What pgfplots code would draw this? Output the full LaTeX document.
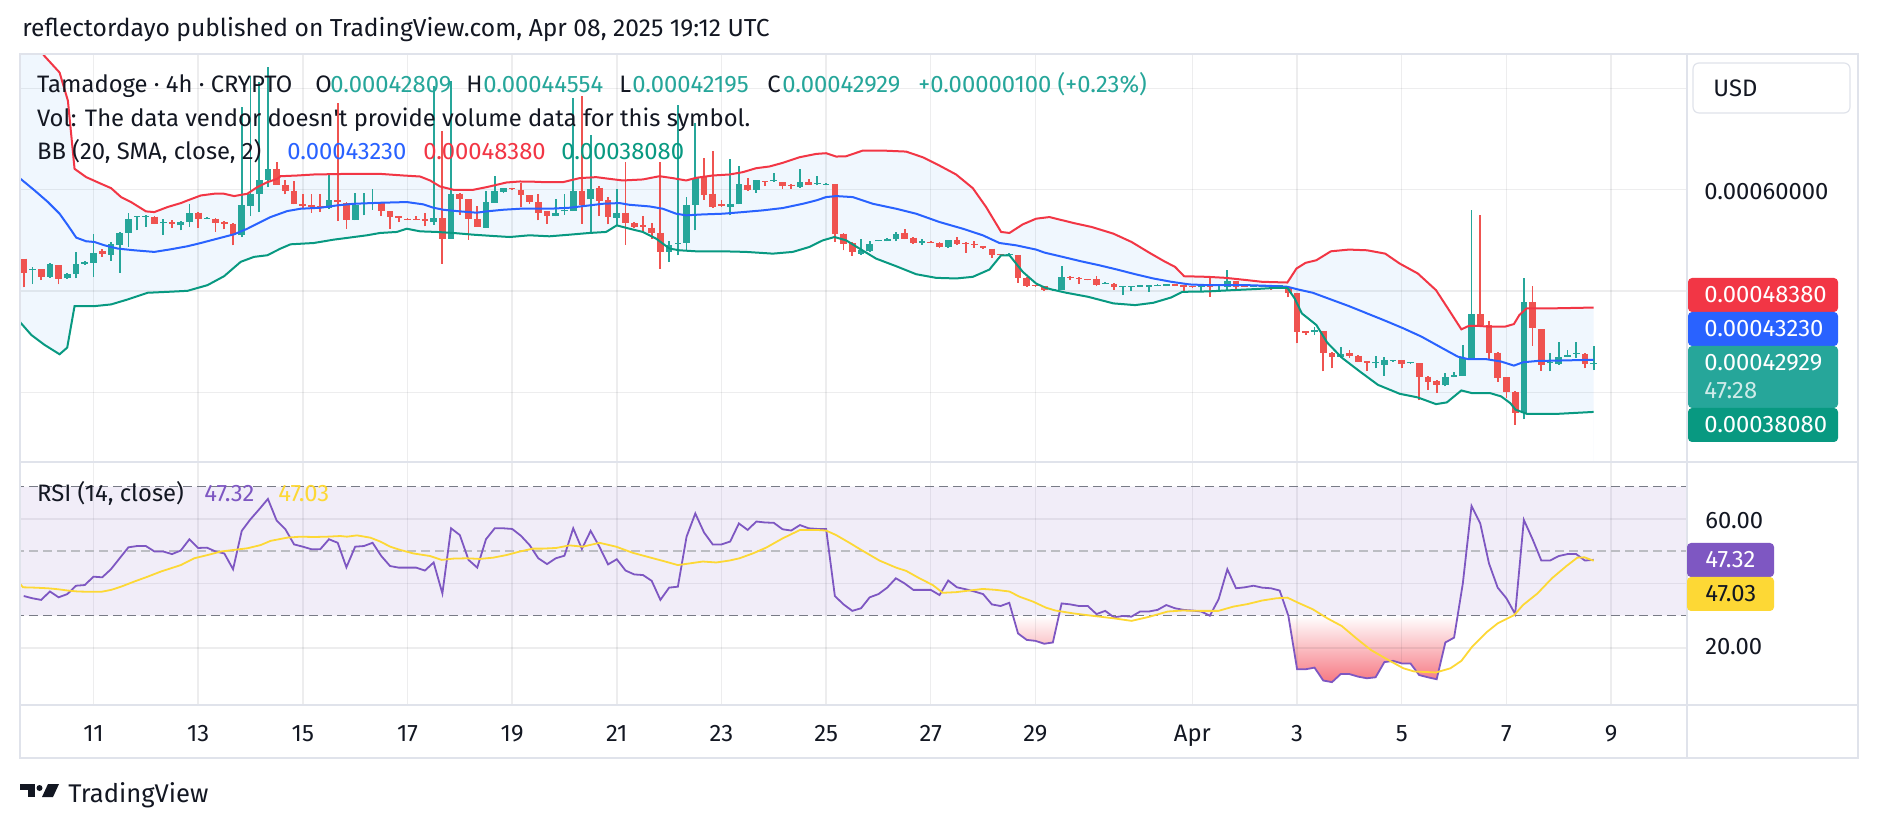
\documentclass[border=0pt]{standalone}
\usepackage{pgfplots}
\pgfplotsset{compat=1.18}
\usepackage{pgfplotstable}
\usepackage{fontspec}
\setmainfont{Fira Sans}
\newfontfamily\plainfs{Fira Sans}

\definecolor{tvgreen}{HTML}{26A69A}
\definecolor{tvred}{HTML}{EF5350}
\definecolor{bbup}{HTML}{F23645}
\definecolor{bbmid}{HTML}{2962FF}
\definecolor{bblow}{HTML}{089981}
\definecolor{bbfill}{RGB}{240,247,254}
\definecolor{rsiline}{HTML}{7E57C2}
\definecolor{rsima}{HTML}{FDD835}
\definecolor{dashc}{HTML}{787B86}
\definecolor{dashm}{RGB}{188,189,195}
\definecolor{framec}{HTML}{E0E3EB}
\definecolor{txt}{HTML}{131722}
\definecolor{osred}{HTML}{F23645}

\newcommand{\fs}{\fontsize{11.9pt}{14pt}\selectfont}

% ---------- candles (price in units of 1e-4 USD, t = day of March) ----------
\pgfplotstableread{
t o h l c
9.833 5.207 5.239 5.069 5.216
10.167 5.141 5.279 5.131 5.266
10.500 5.125 5.180 5.120 5.174
10.667 5.174 5.390 5.125 5.272
10.833 5.272 5.300 5.262 5.289
11.000 5.282 5.567 5.141 5.380
11.333 5.361 5.485 5.298 5.469
11.500 5.459 5.580 5.180 5.577
11.667 5.577 5.774 5.436 5.715
11.833 5.731 5.745 5.600 5.741
12.000 5.735 5.748 5.633 5.745
12.333 5.672 5.715 5.557 5.682
12.667 5.649 5.692 5.600 5.682
12.833 5.682 5.856 5.633 5.770
13.167 5.715 5.730 5.710 5.725
13.833 5.551 6.813 5.534 5.846
14.000 5.840 7.125 5.741 5.961
14.167 5.961 7.059 5.780 6.098
14.333 6.098 7.213 6.026 6.207
15.500 5.820 6.151 5.813 5.895
16.000 5.705 5.967 5.698 5.852
16.167 5.856 5.967 5.748 5.869
16.333 5.866 6.010 5.803 5.879
17.500 5.682 7.026 5.656 5.721
17.833 5.518 7.075 5.518 5.961
18.500 5.626 5.993 5.626 5.879
18.667 5.872 6.141 5.872 5.993
18.833 5.980 6.020 5.967 6.016
19.833 5.738 5.911 5.738 5.774
20.000 5.787 5.954 5.754 5.803
20.167 5.790 6.902 5.790 5.993
20.500 5.905 6.541 5.574 6.010
21.000 5.725 6.010 5.649 5.774
22.000 5.387 5.495 5.289 5.459
22.167 5.469 6.836 5.354 5.479
22.333 5.475 5.928 5.410 5.852
22.500 5.852 6.659 5.600 6.115
23.167 5.830 6.305 5.748 5.862
23.333 5.856 6.239 5.856 6.059
23.667 6.000 6.100 5.970 6.092
24.000 6.082 6.167 6.080 6.092
24.500 6.026 6.207 6.020 6.075
24.833 6.059 6.141 6.043 6.069
25.000 6.049 6.065 6.045 6.059
25.667 5.367 5.511 5.360 5.410
25.833 5.393 5.491 5.390 5.469
26.000 5.491 5.505 5.490 5.501
26.167 5.491 5.520 5.490 5.518
26.333 5.511 5.584 5.491 5.567
26.833 5.479 5.518 5.459 5.491
27.333 5.436 5.505 5.430 5.501
28.500 5.354 5.375 5.350 5.370
29.333 5.008 5.020 5.000 5.018
29.500 5.016 5.246 5.016 5.141
30.333 5.075 5.090 5.070 5.085
30.667 5.039 5.050 4.961 5.049
30.833 5.043 5.055 5.003 5.053
31.000 5.043 5.060 5.040 5.056
31.167 5.043 5.065 4.993 5.059
31.333 5.053 5.066 5.050 5.063
31.500 5.053 5.070 5.050 5.066
32.167 5.036 5.050 5.003 5.049
32.500 5.049 5.065 5.010 5.059
32.667 5.043 5.207 5.010 5.098
33.167 5.043 5.060 5.040 5.059
33.333 5.043 5.060 5.040 5.056
33.667 5.043 5.060 5.040 5.056
34.333 4.600 4.643 4.567 4.616
34.833 4.354 4.452 4.350 4.377
35.500 4.288 4.361 4.239 4.298
35.667 4.272 4.354 4.164 4.321
35.833 4.311 4.325 4.305 4.321
36.167 4.288 4.300 4.285 4.298
36.833 4.069 4.197 4.059 4.148
37.000 4.157 4.200 4.150 4.174
37.167 4.164 4.469 4.164 4.338
37.333 4.338 5.803 4.338 4.770
38.333 3.797 5.125 3.738 4.888
38.833 4.288 4.393 4.207 4.305
39.000 4.282 4.500 4.275 4.347
39.167 4.354 4.420 4.350 4.370
39.333 4.380 4.502 4.338 4.390
39.667 4.2809 4.4554 4.2195 4.2929
}\greenc

\pgfplotstableread{
t o h l c
9.667 5.321 5.321 5.036 5.180
10.000 5.216 5.223 5.108 5.141
10.333 5.256 5.260 5.066 5.115
11.167 5.393 5.420 5.338 5.370
12.167 5.734 5.740 5.660 5.666
12.500 5.682 5.705 5.623 5.659
13.000 5.774 5.780 5.623 5.715
13.333 5.715 5.720 5.584 5.672
13.500 5.682 5.690 5.610 5.666
13.667 5.666 5.670 5.452 5.557
14.500 6.207 6.279 6.049 6.049
14.667 6.049 6.092 5.954 5.993
14.833 5.993 6.082 5.856 5.856
15.000 5.856 5.961 5.813 5.836
15.167 5.846 5.961 5.774 5.830
15.333 5.839 5.954 5.780 5.829
15.667 5.895 6.852 5.692 5.879
15.833 5.872 5.880 5.616 5.698
16.500 5.879 5.880 5.741 5.787
16.667 5.787 5.790 5.616 5.731
16.833 5.738 5.740 5.682 5.725
17.000 5.715 5.718 5.700 5.705
17.167 5.712 5.738 5.700 5.702
17.333 5.708 5.774 5.639 5.692
17.667 5.721 6.584 5.272 5.518
18.000 5.961 5.965 5.754 5.905
18.167 5.905 5.910 5.508 5.715
18.333 5.708 5.836 5.633 5.633
19.000 6.016 6.020 6.000 6.006
19.167 6.000 6.066 5.830 5.951
19.333 5.944 5.950 5.862 5.879
19.500 5.879 5.954 5.698 5.774
19.667 5.787 5.790 5.666 5.738
20.333 5.993 6.928 5.666 5.852
20.667 6.020 6.033 5.741 5.889
20.833 5.895 5.928 5.659 5.731
21.167 5.774 6.279 5.459 5.672
21.333 5.672 5.680 5.620 5.633
21.500 5.649 5.738 5.584 5.633
21.667 5.626 5.672 5.518 5.574
21.833 5.577 6.279 5.223 5.387
22.667 6.125 6.315 5.902 5.944
22.833 5.961 6.387 5.823 5.830
23.000 5.856 5.895 5.835 5.839
23.500 6.049 6.118 5.990 6.000
23.833 6.082 6.090 6.036 6.072
24.167 6.075 6.080 6.010 6.033
24.333 6.052 6.060 6.010 6.043
24.667 6.075 6.108 6.045 6.049
25.167 6.059 6.060 5.485 5.567
25.333 5.567 5.570 5.403 5.469
25.500 5.475 5.480 5.347 5.387
26.500 5.574 5.616 5.510 5.518
26.667 5.528 5.530 5.470 5.475
27.000 5.489 5.490 5.475 5.479
27.167 5.479 5.480 5.430 5.436
27.500 5.501 5.534 5.460 5.462
27.667 5.479 5.480 5.380 5.469
27.833 5.469 5.491 5.426 5.452
28.000 5.443 5.445 5.420 5.426
28.167 5.420 5.420 5.331 5.361
28.333 5.364 5.370 5.350 5.354
28.667 5.354 5.360 5.082 5.131
28.833 5.131 5.135 5.043 5.052
29.000 5.059 5.060 5.045 5.049
29.167 5.049 5.050 5.000 5.010
29.667 5.141 5.145 5.108 5.131
29.833 5.131 5.135 5.075 5.118
30.000 5.118 5.120 5.105 5.108
30.167 5.115 5.151 5.050 5.059
30.500 5.075 5.080 5.016 5.036
31.667 5.066 5.070 5.050 5.053
31.833 5.059 5.060 4.993 5.036
32.000 5.049 5.050 5.030 5.036
32.333 5.049 5.134 4.944 5.036
32.833 5.098 5.100 5.010 5.043
33.000 5.059 5.060 5.040 5.043
33.500 5.056 5.060 5.016 5.043
33.833 5.043 5.050 4.938 4.977
34.000 4.977 4.980 4.485 4.600
34.167 4.607 4.610 4.567 4.590
34.500 4.607 4.610 4.207 4.387
34.667 4.393 4.400 4.239 4.347
35.000 4.387 4.419 4.338 4.361
35.167 4.361 4.365 4.300 4.305
35.333 4.311 4.315 4.216 4.288
36.000 4.321 4.325 4.239 4.279
36.333 4.288 4.290 3.921 4.157
36.500 4.157 4.160 4.026 4.108
36.667 4.115 4.120 3.993 4.069
37.500 4.770 5.747 4.666 4.666
37.667 4.666 4.708 4.321 4.393
37.833 4.393 4.400 4.108 4.141
38.000 4.148 4.150 3.944 4.000
38.167 4.003 4.010 3.682 3.797
38.500 4.888 5.049 4.459 4.633
38.667 4.623 4.630 4.216 4.272
39.500 4.380 4.390 4.239 4.283
}\redc

% ---------- Bollinger bands ----------
\pgfplotstableread{
t v
9.600 7.800
10.054 7.325
10.352 7.157
10.511 6.879
10.638 6.207
10.860 6.125
11.146 6.059
11.337 6.016
11.527 5.928
11.717 5.879
12.003 5.787
12.162 5.780
12.416 5.830
12.670 5.869
12.797 5.895
13.051 5.944
13.305 5.961
13.495 5.961
13.686 5.938
13.940 5.961
14.130 6.026
14.321 6.075
14.511 6.108
14.575 6.134
14.892 6.141
15.210 6.151
15.844 6.157
16.479 6.157
16.924 6.141
17.241 6.131
17.432 6.092
17.622 6.033
17.876 6.000
18.257 6.000
18.511 6.026
18.892 6.072
19.146 6.082
19.400 6.080
19.650 6.075
19.968 6.075
20.287 6.115
20.605 6.125
20.860 6.108
21.115 6.092
21.497 6.102
21.815 6.134
22.070 6.115
22.325 6.092
22.516 6.118
22.834 6.141
23.153 6.151
23.408 6.174
23.662 6.213
23.917 6.230
24.172 6.266
24.490 6.321
24.809 6.354
25.000 6.361
25.191 6.328
25.382 6.331
25.701 6.387
26.083 6.387
26.529 6.377
26.847 6.321
27.166 6.239
27.484 6.151
27.803 6.016
28.057 5.830
28.344 5.584
28.503 5.574
28.758 5.659
29.013 5.715
29.268 5.731
29.729 5.672
30.075 5.633
30.490 5.567
30.837 5.485
31.183 5.377
31.460 5.295
31.668 5.239
31.841 5.147
32.291 5.141
32.637 5.131
33.053 5.108
33.330 5.092
33.814 5.085
33.988 5.223
34.161 5.279
34.368 5.305
34.645 5.393
34.992 5.410
35.338 5.403
35.684 5.370
35.961 5.272
36.307 5.174
36.654 5.010
36.861 4.846
37.139 4.623
37.277 4.656
37.485 4.656
37.693 4.649
37.970 4.649
38.143 4.675
38.247 4.764
38.385 4.830
38.870 4.830
39.667 4.838
}\bbU

\pgfplotstableread{
t v
9.590 6.115
9.876 5.993
10.130 5.879
10.352 5.764
10.511 5.649
10.670 5.528
10.860 5.492
11.019 5.485
11.210 5.452
11.463 5.420
11.781 5.403
12.162 5.387
12.479 5.413
12.797 5.443
13.051 5.475
13.368 5.518
13.686 5.561
13.940 5.616
14.130 5.666
14.384 5.731
14.702 5.790
14.956 5.813
15.337 5.823
15.654 5.846
15.971 5.862
16.479 5.872
16.987 5.879
17.305 5.856
17.495 5.823
17.686 5.803
18.003 5.787
18.321 5.774
18.511 5.787
18.829 5.803
19.146 5.813
19.331 5.813
19.713 5.813
20.096 5.823
20.478 5.846
20.732 5.862
21.051 5.869
21.242 5.852
21.624 5.836
21.879 5.813
22.134 5.764
22.325 5.748
22.643 5.757
23.025 5.764
23.408 5.780
23.790 5.797
24.172 5.820
24.554 5.862
24.809 5.895
25.000 5.928
25.191 5.938
25.510 5.928
25.701 5.895
25.892 5.862
26.338 5.813
26.720 5.764
27.166 5.682
27.611 5.616
27.994 5.551
28.312 5.475
28.631 5.452
29.013 5.410
29.175 5.380
29.521 5.338
29.867 5.295
30.213 5.256
30.560 5.213
30.906 5.167
31.252 5.125
31.598 5.092
31.945 5.066
32.291 5.059
32.637 5.059
33.053 5.059
33.468 5.052
33.814 5.043
34.022 5.016
34.299 4.984
34.645 4.918
34.992 4.852
35.338 4.780
35.684 4.708
36.030 4.633
36.377 4.551
36.723 4.452
37.069 4.354
37.277 4.328
37.623 4.328
37.900 4.305
38.143 4.265
38.316 4.298
38.593 4.311
39.008 4.315
39.667 4.323
}\bbM

\pgfplotstableread{
t v
9.590 4.698
9.813 4.567
10.067 4.469
10.352 4.377
10.498 4.443
10.638 4.852
11.019 4.852
11.337 4.869
11.654 4.918
12.035 4.984
12.416 4.993
12.797 5.003
13.178 5.059
13.495 5.147
13.813 5.289
14.067 5.338
14.321 5.354
14.575 5.420
14.765 5.462
15.210 5.475
15.590 5.508
15.844 5.525
16.225 5.551
16.479 5.574
16.797 5.584
16.987 5.616
17.241 5.590
17.559 5.584
17.876 5.574
18.257 5.557
18.638 5.544
18.956 5.534
19.331 5.551
19.713 5.541
20.096 5.557
20.478 5.574
20.796 5.584
21.000 5.649
21.242 5.616
21.497 5.584
21.752 5.518
22.006 5.420
22.197 5.403
22.516 5.393
23.025 5.393
23.471 5.387
23.981 5.370
24.363 5.387
24.682 5.436
24.936 5.501
25.159 5.534
25.382 5.501
25.637 5.420
25.955 5.321
26.338 5.246
26.720 5.167
27.102 5.131
27.484 5.125
27.803 5.141
28.121 5.213
28.344 5.354
28.503 5.354
28.758 5.190
29.013 5.075
29.175 5.036
29.313 5.016
29.590 4.984
30.006 4.944
30.490 4.879
30.906 4.862
31.252 4.885
31.598 4.938
31.806 4.993
32.291 4.997
32.776 5.010
33.191 5.020
33.607 5.033
33.814 5.033
33.953 4.928
34.091 4.780
34.368 4.666
34.576 4.492
34.853 4.344
35.199 4.207
35.546 4.075
35.961 3.987
36.307 3.951
36.654 3.885
36.861 3.902
37.139 4.020
37.346 3.993
37.693 3.993
37.900 3.961
38.073 3.895
38.177 3.830
38.385 3.790
39.008 3.790
39.667 3.808
}\bbL

% ---------- RSI ----------
\pgfplotstableread{
t r
9.667 36.1
9.833 35.4
10.000 34.9
10.167 37.5
10.333 35.7
10.500 36.7
10.667 39.3
10.833 39.5
11.000 42.1
11.167 41.9
11.333 44.4
11.500 47.8
11.667 51.2
11.833 51.6
12.000 51.6
12.167 49.9
12.333 49.9
12.500 49.1
12.667 50.2
12.833 53.7
13.000 51.0
13.167 51.1
13.333 49.9
13.500 49.3
13.667 44.4
13.833 56.3
14.000 59.9
14.167 63.0
14.333 66.2
14.500 59.5
14.667 56.8
14.833 52.1
15.000 51.4
15.167 50.6
15.333 50.6
15.500 53.7
15.667 52.6
15.833 45.0
16.000 51.4
16.167 51.6
16.333 52.6
16.500 48.5
16.667 45.4
16.833 44.9
17.000 44.9
17.167 44.9
17.333 44.0
17.500 46.5
17.667 36.9
17.833 57.1
18.000 55.0
18.167 47.3
18.333 44.9
18.500 53.7
18.667 57.1
18.833 57.1
19.000 56.9
19.167 54.8
19.333 51.9
19.500 47.8
19.667 46.0
19.833 47.8
20.000 48.6
20.167 57.1
20.333 50.7
20.500 56.3
20.667 51.4
20.833 45.9
21.000 47.5
21.167 44.0
21.333 42.8
21.500 42.6
21.667 40.8
21.833 34.9
22.000 38.7
22.167 39.0
22.333 54.5
22.500 61.7
22.667 55.8
22.833 52.1
23.000 52.1
23.167 53.0
23.333 58.6
23.500 56.6
23.667 59.2
23.833 58.9
24.000 58.8
24.167 56.8
24.333 56.4
24.500 58.1
24.667 57.1
24.833 56.9
25.000 56.9
25.167 36.1
25.333 33.5
25.500 31.5
25.667 32.3
25.833 35.7
26.000 36.7
26.167 38.7
26.333 41.6
26.500 40.0
26.667 38.0
26.833 38.0
27.000 38.0
27.167 36.4
27.333 40.9
27.500 38.8
27.667 38.2
27.833 37.5
28.000 36.7
28.167 33.5
28.333 33.0
28.500 34.0
28.667 24.5
28.833 22.5
29.000 22.2
29.167 21.3
29.333 21.7
29.500 33.8
29.667 33.5
29.833 33.0
30.000 33.0
30.167 30.5
30.333 31.5
30.500 29.5
30.667 29.9
30.833 29.7
31.000 31.3
31.167 31.3
31.333 31.8
31.500 33.3
31.667 32.3
31.833 31.8
32.000 31.6
32.167 31.3
32.333 30.0
32.500 35.1
32.667 44.4
32.833 38.5
33.000 38.8
33.167 39.3
33.333 38.7
33.500 38.5
33.667 37.8
33.833 30.0
34.000 13.4
34.167 13.4
34.333 13.9
34.500 9.9
34.667 9.4
34.833 11.9
35.000 11.9
35.167 11.1
35.333 10.6
35.500 10.9
35.667 15.6
35.833 16.0
36.000 15.2
36.167 15.2
36.333 11.6
36.500 10.9
36.667 10.3
36.833 21.7
37.000 23.2
37.167 40.0
37.333 64.0
37.500 58.6
37.667 46.2
37.833 38.7
38.000 35.4
38.167 30.5
38.333 59.7
38.500 53.7
38.667 47.1
38.833 47.1
39.000 48.5
39.167 49.1
39.333 49.1
39.500 47.1
39.667 47.32
}\rsiT

\pgfplotstableread{
t m
9.590 40.0
9.654 38.8
9.876 38.7
10.130 38.5
10.321 38.2
10.511 37.8
10.702 37.5
10.956 37.4
11.146 37.4
11.337 38.0
11.527 39.0
11.781 40.6
12.035 42.1
12.289 43.7
12.479 44.7
12.670 45.7
12.924 47.8
13.178 48.8
13.432 49.9
13.686 50.4
13.940 50.9
14.194 51.9
14.384 53.2
14.702 54.2
14.956 54.5
15.210 54.4
15.464 54.5
15.717 54.7
15.844 54.5
16.035 54.9
16.289 54.2
16.479 53.0
16.670 51.4
16.860 50.4
17.114 49.3
17.432 48.5
17.654 47.3
17.876 47.7
18.130 47.8
18.384 47.6
18.638 48.0
18.892 48.8
19.146 49.9
19.400 50.8
19.586 50.8
19.841 51.0
20.096 51.8
20.350 51.4
20.669 52.6
20.987 51.4
21.306 49.5
21.624 48.1
21.879 47.0
22.166 45.7
22.389 46.2
22.643 46.8
22.898 46.5
23.153 47.1
23.344 47.8
23.599 49.3
23.854 51.1
24.172 54.0
24.503 56.6
24.809 56.6
25.000 56.4
25.191 55.0
25.446 52.6
25.701 50.1
26.019 47.1
26.338 44.9
26.529 43.9
26.783 41.6
27.038 39.5
27.229 37.1
27.484 37.3
27.739 37.8
27.994 38.3
28.248 38.0
28.503 37.5
28.694 35.9
28.949 34.4
29.200 32.5
29.382 31.6
29.729 30.7
30.075 30.0
30.490 29.2
30.837 28.4
31.183 29.7
31.529 31.3
31.806 31.6
32.152 31.5
32.499 31.5
32.776 32.8
33.053 33.6
33.330 34.7
33.607 35.4
33.814 35.6
34.022 34.0
34.299 32.0
34.576 29.2
34.853 26.8
35.130 23.0
35.407 19.4
35.684 16.8
36.030 13.7
36.238 12.7
36.654 12.4
36.931 13.7
37.139 16.0
37.346 20.4
37.623 24.9
37.831 27.6
38.150 30.2
38.316 33.3
38.593 36.9
38.870 41.6
39.147 45.4
39.355 48.0
39.493 48.1
39.667 47.03
}\maT

% draw the candles of one table (wick L-H, body O-C) in axis coordinates
\newcommand{\candles}[3]{%
  \pgfplotsforeachungrouped \i in {0,...,#2}{%
    \pgfplotstablegetelem{\i}{t}\of#1\let\cT\pgfplotsretval
    \pgfplotstablegetelem{\i}{o}\of#1\let\cO\pgfplotsretval
    \pgfplotstablegetelem{\i}{h}\of#1\let\cH\pgfplotsretval
    \pgfplotstablegetelem{\i}{l}\of#1\let\cL\pgfplotsretval
    \pgfplotstablegetelem{\i}{c}\of#1\let\cC\pgfplotsretval
    \edef\docandle{%
      \noexpand\draw[#3, line width=0.9pt] (axis cs:\cT,\cL) -- (axis cs:\cT,\cH);
      \noexpand\draw[#3, line width=3.35pt] (axis cs:\cT,\cO) -- (axis cs:\cT,\cC);}%
    \docandle
  }%
}

\pgfplotsset{
  pane/.style={at={(10pt,#1)}, anchor=south west, scale only axis, width=833.5pt,
    xmin=9.5955, xmax=41.451, no markers, clip=true},
  tvgrid/.style={grid=major, grid style={draw=txt, draw opacity=0.075, line width=0.7pt}},
}

\begin{document}
\begin{tikzpicture}
\fill[white] (0,0) rectangle (939pt,415pt);

% ---- price pane underlay: Bollinger band fill ----
\begin{axis}[pane=184pt, height=204pt, ymin=3.314, ymax=7.340, hide axis]
\addplot[fill=bbfill, draw=none] table[x=t,y=v] \bbU \closedcycle;
\addplot[fill=white, draw=none] table[x=t,y=v] \bbL \closedcycle;
\end{axis}

% ---- price pane ----
\begin{axis}[pane=184pt, height=204pt, ymin=3.314, ymax=7.340,
  axis line style={draw=none}, major tick length=0pt,
  xtick={11,13,15,17,19,21,23,25,27,29,32,34,36,38,40},
  ytick={4,5,6,7}, xticklabels={}, yticklabels={}, tvgrid]
\candles{\greenc}{82}{tvgreen}
\candles{\redc}{97}{tvred}
\addplot[bbup, line width=1pt] table[x=t,y=v] \bbU;
\addplot[bbmid, line width=1pt] table[x=t,y=v] \bbM;
\addplot[bblow, line width=1pt] table[x=t,y=v] \bbL;
\end{axis}

% ---- RSI underlay: oversold gradient below 30 (clipped at 30 by this axis) ----
\begin{axis}[pane=62.5pt, height=44.65pt, ymin=2.31, ymax=30, hide axis]
\shade[top color=white, bottom color=osred!90!white] (axis cs:28.2,2.31) rectangle (axis cs:37.4,30);
\addplot[fill=white, draw=none] table[x=t,y=r] \rsiT \closedcycle;
\end{axis}

% ---- RSI pane ----
\begin{axis}[pane=62.5pt, height=121.5pt, ymin=2.31, ymax=77.66,
  axis line style={draw=none}, major tick length=0pt,
  xtick={11,13,15,17,19,21,23,25,27,29,32,34,36,38,40},
  xticklabels={11,13,15,17,19,21,23,25,27,29,Apr,3,5,7,9},
  xticklabel style={font=\fs, text=txt, anchor=base, inner sep=0pt, yshift=-18pt},
  ytick={20,40,60}, yticklabels={}, tvgrid]
\addplot[draw=none, fill=rsiline, fill opacity=0.10]
  coordinates {(9.5,30) (41.5,30) (41.5,70) (9.5,70) (9.5,30)};
\addplot[dashc, line width=0.75pt, dash pattern=on 4.5pt off 2.5pt] coordinates {(9.5,70) (41.5,70)};
\addplot[dashm, line width=0.75pt, dash pattern=on 4.5pt off 2.5pt] coordinates {(9.5,50) (41.5,50)};
\addplot[dashc, line width=0.75pt, dash pattern=on 4.5pt off 2.5pt] coordinates {(9.5,30) (41.5,30)};
\addplot[rsiline, line width=0.9pt] table[x=t,y=r] \rsiT;
\addplot[rsima, line width=0.9pt] table[x=t,y=m] \maT;
\end{axis}

% ================= frame, scales, legends =================
\begin{scope}[x=0.5pt, y=0.5pt, every node/.style={inner sep=0pt, font=\fs, text=txt}]
\draw[framec, line width=0.6pt] (20,776) rectangle (1858,72);
\draw[framec, line width=1.1pt] (20,368) -- (1858,368);
\draw[framec, line width=1.1pt] (20,125) -- (1858,125);
\draw[framec, line width=1.1pt] (1687,776) -- (1687,72);

\node[anchor=base west, font=\fontsize{12.3pt}{14pt}\selectfont] at (22,793) {reflectordayo published on TradingView.com, Apr 08, 2025 19:12 UTC};

\node[anchor=base west] at (36.7,737.3) {Tamadoge · 4h · CRYPTO};
\node[anchor=base west] at (315,737.3) {O};
\node[anchor=base west, text=tvgreen] at (330,737.3) {0.00042809};
\node[anchor=base west] at (466,737.3) {H};
\node[anchor=base west, text=tvgreen] at (483,737.3) {0.00044554};
\node[anchor=base west] at (619,737.3) {L};
\node[anchor=base west, text=tvgreen] at (632,737.3) {0.00042195};
\node[anchor=base west] at (767,737.3) {C};
\node[anchor=base west, text=tvgreen] at (782,737.3) {0.00042929};
\node[anchor=base west, text=tvgreen] at (918,737.3) {+0.00000100 (+0.23\%)};
\node[anchor=base west] at (36.7,703.3) {Vol: The data vendor doesn{\plainfs'}t provide volume data for this symbol.};
\node[anchor=base west] at (36.7,670) {BB (20, SMA, close, 2)};
\node[anchor=base west, text=bbmid] at (287,670) {0.00043230};
\node[anchor=base west, text=bbup] at (423,670) {0.00048380};
\node[anchor=base west, text=bblow] at (561,670) {0.00038080};

\node[anchor=base west] at (36.7,328) {RSI (14, close)};
\node[anchor=base west, text=rsiline] at (204,328) {47.32};
\node[anchor=base west, text=rsima] at (278,328) {47.03};

\draw[framec, fill=white, line width=0.6pt, rounded corners=3pt] (1693,767) rectangle (1850,717);
\node[anchor=west] at (1713,742) {USD};
\node[anchor=west] at (1704,638) {0.00060000};
\fill[bbup, rounded corners=2pt] (1688,552) rectangle (1838,518);
\node[anchor=west, text=white] at (1704,535) {0.00048380};
\fill[bbmid, rounded corners=2pt] (1688,518) rectangle (1838,484);
\node[anchor=west, text=white] at (1704,501) {0.00043230};
\fill[tvgreen, rounded corners=2pt] (1688,484) rectangle (1838,422);
\node[anchor=west, text=white] at (1704,467) {0.00042929};
\node[anchor=west, text=white!78!tvgreen] at (1704,439) {47:28};
\fill[bblow, rounded corners=2pt] (1688,422) rectangle (1838,388);
\node[anchor=west, text=white] at (1704,405) {0.00038080};

\node[anchor=west] at (1705,309) {60.00};
\node[anchor=west] at (1705,183) {20.00};
\fill[rsiline, rounded corners=2pt] (1687,287) rectangle (1774,253);
\node[anchor=west, text=white] at (1705,270) {47.32};
\fill[rsima, rounded corners=2pt] (1687,253) rectangle (1774,219);
\node[anchor=west] at (1705,236) {47.03};

\fill[txt] (20,46) rectangle (35,40.5);
\fill[txt] (28,46) rectangle (35,33);
\fill[txt] (39.5,42) circle (3);
\fill[txt] (48,46) -- (59,46) -- (53,33) -- (42,33) -- cycle;
\node[anchor=base west, font=\fontsize{12.8pt}{15pt}\selectfont] at (68,28) {TradingView};
\end{scope}
\pgfresetboundingbox
\useasboundingbox (0,0) rectangle (939pt,415pt);
\end{tikzpicture}
\end{document}
